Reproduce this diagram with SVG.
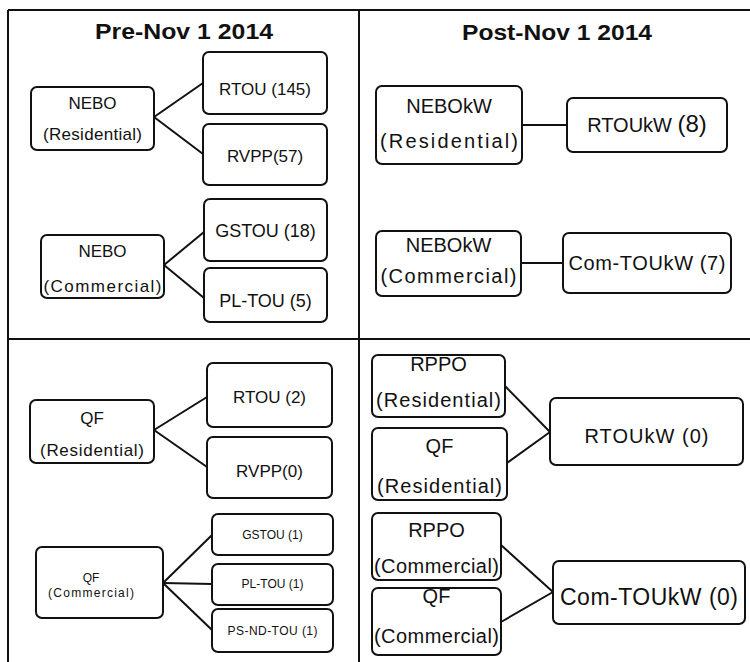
<svg xmlns="http://www.w3.org/2000/svg" width="750" height="662" viewBox="0 0 750 662">
<style>
.frame{stroke:#111;stroke-width:2;fill:none}
.box{fill:#fff;stroke:#111;stroke-width:2}
.conn line{stroke:#111;stroke-width:2}
text{font-family:"Liberation Sans",Arial,sans-serif;fill:#111;text-anchor:middle}
.title{font-weight:bold;font-size:22px}
.t17{font-size:17px}
.t18{font-size:18px}
.t20{font-size:20px}
.t23{font-size:23px}
.t12{font-size:12px}
</style>
<rect width="750" height="662" fill="#fff"/>
<g id="frame">
<line class="frame" x1="8" y1="10" x2="750" y2="10"/>
<line class="frame" x1="8" y1="10" x2="8" y2="662"/>
<line class="frame" x1="359" y1="10" x2="359" y2="662"/>
<line class="frame" x1="8" y1="339" x2="750" y2="339"/>
</g>
<text class="title" x="184" y="39" textLength="178" lengthAdjust="spacingAndGlyphs">Pre-Nov 1 2014</text>
<text class="title" x="557" y="40" textLength="190" lengthAdjust="spacingAndGlyphs">Post-Nov 1 2014</text>
<g class="conn" id="connectors">
<line x1="154" y1="117" x2="203" y2="83"/>
<line x1="154" y1="117" x2="203" y2="154"/>
<line x1="164" y1="265" x2="204" y2="232"/>
<line x1="164" y1="265" x2="204" y2="298"/>
<line x1="522" y1="125" x2="567" y2="125"/>
<line x1="521" y1="263" x2="563" y2="263"/>
<line x1="154" y1="430" x2="207" y2="397"/>
<line x1="154" y1="430" x2="207" y2="467"/>
<line x1="163" y1="583" x2="212" y2="535"/>
<line x1="163" y1="583" x2="212" y2="584"/>
<line x1="163" y1="583" x2="212" y2="630"/>
<line x1="505" y1="386" x2="550" y2="432"/>
<line x1="507" y1="463" x2="550" y2="432"/>
<line x1="501" y1="545" x2="553" y2="592"/>
<line x1="501" y1="622" x2="553" y2="592"/>
</g>
<g id="nebo-res"><rect class="box" x="31" y="87" width="123" height="63" rx="6"/><text class="t17" x="92.5" y="109">NEBO</text><text class="t17" x="92.5" y="140" textLength="99" lengthAdjust="spacing">(Residential)</text></g>
<g id="rtou145"><rect class="box" x="203" y="52" width="124" height="62" rx="6"/><text class="t17" x="265" y="95">RTOU (145)</text></g>
<g id="rvpp57"><rect class="box" x="203" y="124" width="124" height="61" rx="6"/><text class="t17" x="265" y="162">RVPP(57)</text></g>
<g id="nebo-com"><rect class="box" x="41" y="235" width="123" height="63" rx="6"/><text class="t17" x="102.5" y="257">NEBO</text><text class="t17" x="102.5" y="292" textLength="118" lengthAdjust="spacing">(Commercial)</text></g>
<g id="gstou18"><rect class="box" x="204" y="199" width="123" height="62" rx="6"/><text class="t18" x="265.5" y="237">GSTOU (18)</text></g>
<g id="pltou5"><rect class="box" x="204" y="268" width="123" height="54" rx="6"/><text class="t18" x="265.5" y="307">PL-TOU (5)</text></g>
<g id="nebokw-res"><rect class="box" x="376" y="86" width="146" height="78" rx="6"/><text class="t20" x="449" y="113">NEBOkW</text><text class="t20" x="449" y="148" textLength="138" lengthAdjust="spacing">(Residential)</text></g>
<g id="rtoukw8"><rect class="box" x="567" y="98" width="160" height="54" rx="6"/><text class="t20" x="647" y="132">RTOUkW <tspan font-size="24">(8)</tspan></text></g>
<g id="nebokw-com"><rect class="box" x="376" y="231" width="145" height="65" rx="6"/><text class="t20" x="448.5" y="252">NEBOkW</text><text class="t20" x="448.5" y="283" textLength="136" lengthAdjust="spacing">(Commercial)</text></g>
<g id="comtoukw7"><rect class="box" x="563" y="233" width="168" height="60" rx="6"/><text class="t20" x="647" y="270" textLength="157" lengthAdjust="spacing">Com-TOUkW (7)</text></g>
<g id="qf-res"><rect class="box" x="30" y="400" width="124" height="63" rx="6"/><text class="t17" x="92" y="424">QF</text><text class="t17" x="92" y="456" textLength="104" lengthAdjust="spacing">(Residential)</text></g>
<g id="rtou2"><rect class="box" x="207" y="363" width="125" height="64" rx="6"/><text class="t17" x="269.5" y="403">RTOU (2)</text></g>
<g id="rvpp0"><rect class="box" x="207" y="437" width="125" height="61" rx="6"/><text class="t17" x="269.5" y="477">RVPP(0)</text></g>
<g id="qf-com"><rect class="box" x="36" y="547" width="127" height="71" rx="6"/><text class="t12" x="91" y="582">QF</text><text class="t12" x="91" y="597" textLength="86" lengthAdjust="spacing">(Commercial)</text></g>
<g id="gstou1"><rect class="box" x="212" y="514" width="121" height="41" rx="6"/><text class="t12" x="272.5" y="539">GSTOU (1)</text></g>
<g id="pltou1"><rect class="box" x="212" y="564" width="121" height="41" rx="6"/><text class="t12" x="272.5" y="588">PL-TOU (1)</text></g>
<g id="psndtou1"><rect class="box" x="212" y="609" width="121" height="43" rx="6"/><text class="t12" x="272.5" y="635" textLength="90" lengthAdjust="spacing">PS-ND-TOU (1)</text></g>
<g id="rppo-res"><rect class="box" x="372" y="355" width="133" height="62" rx="6"/><text class="t20" x="438.5" y="371">RPPO</text><text class="t20" x="438.5" y="407" textLength="125" lengthAdjust="spacing">(Residential)</text></g>
<g id="qf-res2"><rect class="box" x="372" y="428" width="135" height="72" rx="6"/><text class="t20" x="439.5" y="453">QF</text><text class="t20" x="439.5" y="493" textLength="125" lengthAdjust="spacing">(Residential)</text></g>
<g id="rtoukw0"><rect class="box" x="550" y="398" width="193" height="67" rx="6"/><text class="t20" x="646.5" y="443" textLength="124" lengthAdjust="spacing">RTOUkW (0)</text></g>
<g id="rppo-com"><rect class="box" x="372" y="513" width="129" height="67" rx="6"/><text class="t20" x="436.5" y="537">RPPO</text><text class="t20" x="436.5" y="573" textLength="125" lengthAdjust="spacing">(Commercial)</text></g>
<g id="qf-com2"><rect class="box" x="372" y="588" width="129" height="67" rx="6"/><text class="t20" x="436.5" y="603">QF</text><text class="t20" x="436.5" y="643" textLength="125" lengthAdjust="spacing">(Commercial)</text></g>
<g id="comtoukw0"><rect class="box" x="553" y="561" width="192" height="63" rx="6"/><text class="t23" x="649" y="605" textLength="178" lengthAdjust="spacing">Com-TOUkW (0)</text></g>
</svg>
